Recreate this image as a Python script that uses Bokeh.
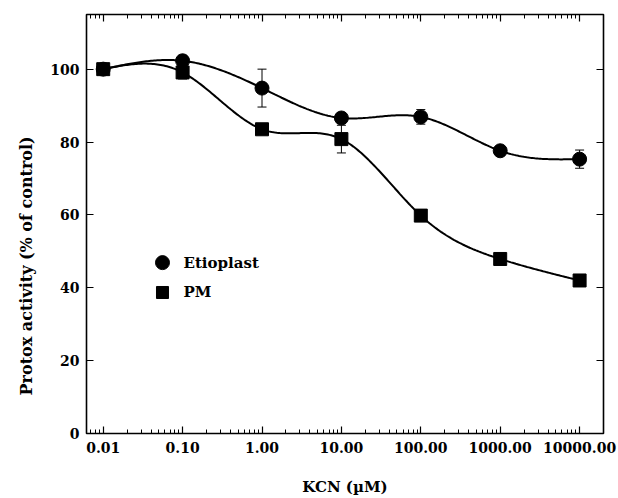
import numpy as np
from bokeh.plotting import figure
from bokeh.core.properties import value
from bokeh.models import (Range1d, FixedTicker, NumeralTickFormatter, LogAxis, LinearAxis,
                          Whisker, TeeHead, ColumnDataSource, Title)
from bokeh.embed import file_html
from bokeh.resources import INLINE

# ---- data ----
kcn = [0.01, 0.1, 1.0, 10.0, 100.0, 1000.0, 10000.0]
etioplast = [100.0, 102.3, 94.8, 86.6, 86.9, 77.6, 75.3]
etioplast_err = [0.8, 1.5, 5.2, 1.5, 2.0, 1.2, 2.5]
pm = [100.0, 99.1, 83.5, 80.8, 59.8, 47.9, 42.0]
pm_err = [0.8, 1.8, 1.2, 3.8, 1.2, 1.0, 1.2]
x_ticks = [0.01, 0.1, 1.0, 10.0, 100.0, 1000.0, 10000.0]
y_ticks = [0, 20, 40, 60, 80, 100]
series_names = ["Etioplast", "PM"]

FONT = "DejaVu Serif"

# legend placement (layout, in data coordinates of the axes)
LEG_MARK_X = 0.0558
LEG_TEXT_X = 0.1026
LEG_Y = [46.9, 38.7]


def natural_spline(xs, ys, xq):
    xs = np.asarray(xs, float)
    ys = np.asarray(ys, float)
    n = len(xs)
    h = np.diff(xs)
    A = np.zeros((n, n))
    b = np.zeros(n)
    A[0, 0] = A[-1, -1] = 1.0
    for i in range(1, n - 1):
        A[i, i - 1] = h[i - 1]
        A[i, i] = 2 * (h[i - 1] + h[i])
        A[i, i + 1] = h[i]
        b[i] = 3 * ((ys[i + 1] - ys[i]) / h[i] - (ys[i] - ys[i - 1]) / h[i - 1])
    c = np.linalg.solve(A, b)
    bb = (ys[1:] - ys[:-1]) / h - h * (2 * c[:-1] + c[1:]) / 3
    d = (c[1:] - c[:-1]) / (3 * h)
    idx = np.clip(np.searchsorted(xs, xq) - 1, 0, n - 2)
    t = xq - xs[idx]
    return ys[idx] + bb[idx] * t + c[idx] * t ** 2 + d[idx] * t ** 3


lx = np.log10(kcn)
lq = np.linspace(lx[0], lx[-1], 300)
xq = 10 ** lq
curve_e = natural_spline(lx, etioplast, lq)
curve_p = natural_spline(lx, pm, lq)

p = figure(width=618, height=498, x_axis_type="log",
           x_range=Range1d(0.00616, 20000), y_range=Range1d(0, 115),
           output_backend="svg", toolbar_location=None,
           min_border_left=86, min_border_right=15, min_border_top=14, min_border_bottom=65)
p.background_fill_color = "white"
p.border_fill_color = "white"
p.outline_line_color = "black"
p.outline_line_width = 1.6
p.xgrid.visible = False
p.ygrid.visible = False

minor = []
for e in range(-3, 5):
    for m in range(2, 10):
        v = m * 10.0 ** e
        if 0.00616 < v < 20000:
            minor.append(v)
xticker = FixedTicker(ticks=x_ticks, minor_ticks=minor)
yticker = FixedTicker(ticks=y_ticks, minor_ticks=[])

for ax in p.xaxis:
    ax.ticker = xticker
    ax.formatter = NumeralTickFormatter(format="0.00")
for ax in p.yaxis:
    ax.ticker = yticker

def style_axis(ax, labels=True):
    ax.axis_line_color = None
    ax.major_tick_in = 7
    ax.major_tick_out = 0
    ax.minor_tick_in = 4
    ax.minor_tick_out = 0
    ax.major_tick_line_color = "black"
    ax.minor_tick_line_color = "black"
    ax.major_tick_line_width = 1.2
    ax.minor_tick_line_width = 1
    if labels:
        ax.major_label_text_font = FONT
        ax.major_label_text_font_style = "bold"
        ax.major_label_text_font_size = "14px"
        ax.major_label_text_color = "black"
        ax.major_label_standoff = 8
    else:
        ax.major_label_text_font_size = "1px"
        ax.major_label_text_color = None
        ax.major_label_standoff = 0

style_axis(p.xaxis[0])
style_axis(p.yaxis[0])
p.yaxis[0].major_label_standoff = 7
p.xaxis[0].axis_label = "KCN (\u00b5M)"
p.xaxis[0].axis_label_text_font = FONT
p.xaxis[0].axis_label_text_font_style = "bold"
p.xaxis[0].axis_label_text_font_size = "15px"
p.xaxis[0].axis_label_text_color = "black"
p.xaxis[0].axis_label_standoff = 22

top = LogAxis(ticker=xticker)
style_axis(top, labels=False)
p.add_layout(top, "above")
right = LinearAxis(ticker=yticker)
style_axis(right, labels=False)
p.add_layout(right, "right")

# curves
p.line(xq, curve_e, line_color="black", line_width=2)
p.line(xq, curve_p, line_color="black", line_width=2)

# error bars
src_e = ColumnDataSource(dict(x=kcn, lo=[v - e for v, e in zip(etioplast, etioplast_err)],
                              hi=[v + e for v, e in zip(etioplast, etioplast_err)]))
src_p = ColumnDataSource(dict(x=kcn, lo=[v - e for v, e in zip(pm, pm_err)],
                              hi=[v + e for v, e in zip(pm, pm_err)]))
for src in (src_e, src_p):
    w = Whisker(base="x", lower="lo", upper="hi", source=src, line_color="black", line_width=1,
                upper_head=TeeHead(size=9, line_color="black", line_width=1),
                lower_head=TeeHead(size=9, line_color="black", line_width=1))
    p.add_layout(w)

p.scatter(kcn, etioplast, marker="circle", size=14, fill_color="black", line_color="black")
p.scatter(kcn, pm, marker="square", size=13, fill_color="black", line_color="black")

# legend (drawn by hand to match marker size)
p.scatter([LEG_MARK_X], [LEG_Y[0]], marker="circle", size=14, fill_color="black", line_color="black")
p.scatter([LEG_MARK_X], [LEG_Y[1]], marker="square", size=12, fill_color="black", line_color="black")
p.text([LEG_TEXT_X, LEG_TEXT_X], LEG_Y, text=series_names, text_font=value(FONT),
       text_font_style="bold", text_font_size="15px", text_baseline="middle",
       text_align="left", text_color="black")

ylab = Title(text="Protox activity (% of control)", align="left", offset=38,
             text_font=FONT, text_font_style="bold", text_font_size="16px",
             text_color="black", standoff=24)
p.add_layout(ylab, "left")

open("out.html", "w").write(file_html(p, INLINE))
